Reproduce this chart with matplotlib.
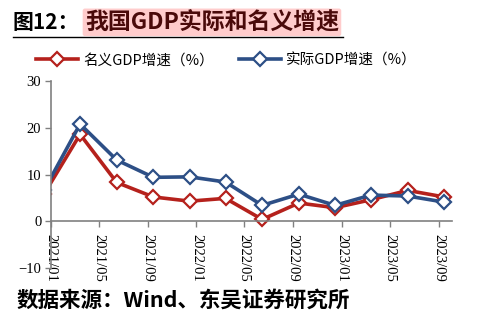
import numpy as np
import pandas as pd
import matplotlib
matplotlib.use("Agg")
import matplotlib.pyplot as plt
import matplotlib.dates as mdates
from matplotlib.lines import Line2D

plt.rcParams["font.family"] = ["Liberation Serif", "Noto Sans CJK SC"]

# quarterly points (first one sits just left of the axis and gets clipped)
dates = pd.to_datetime([
    "2020-12-15", "2021-03-15", "2021-06-15", "2021-09-15", "2021-12-15",
    "2022-03-15", "2022-06-15", "2022-09-15", "2022-12-15",
    "2023-03-15", "2023-06-15", "2023-09-15",
])
nominal = [5.9, 18.6, 8.3, 5.2, 4.3, 4.9, 0.4, 3.9, 2.9, 4.6, 6.6, 5.2]
real = [6.7, 20.8, 13.1, 9.4, 9.5, 8.4, 3.4, 5.8, 3.4, 5.6, 5.4, 4.1]

RED = "#B5211C"
BLUE = "#2D4F86"
CJK = ["Noto Sans CJK SC", "DejaVu Sans"]

fig = plt.figure(figsize=(4.8, 3.19), dpi=100)
ax = fig.add_axes([0.10625, 0.1599, 0.835, 0.586])

ax.plot(dates, nominal, color=RED, lw=2.6, marker="D", ms=7,
        mfc="white", mec=RED, mew=1.6, label="名义GDP增速（%）")
ax.plot(dates, real, color=BLUE, lw=2.6, marker="D", ms=7,
        mfc="white", mec=BLUE, mew=1.6, label="实际GDP增速（%）")

ax.set_ylim(-10, 30)
ax.set_yticks([-10, 0, 10, 20, 30])
ax.set_xlim(pd.Timestamp("2021-01-01"), pd.Timestamp("2023-10-04"))
ax.xaxis.set_major_locator(mdates.MonthLocator(bymonth=[1, 5, 9]))
ax.xaxis.set_major_formatter(mdates.DateFormatter("%Y/%m"))

for s in ["top", "right"]:
    ax.spines[s].set_visible(False)
ax.spines["bottom"].set_position(("data", 0))
for s in ["left", "bottom"]:
    ax.spines[s].set_color("#808080")
    ax.spines[s].set_linewidth(1.2)

ax.tick_params(axis="y", direction="out", length=4, width=1, color="#808080",
               labelsize=10.5, pad=3)
ax.tick_params(axis="x", direction="out", length=4, width=1, color="#808080",
               labelsize=10.5, pad=5)
for lbl in ax.get_xticklabels():
    lbl.set_rotation(270)
    lbl.set_va("top")
    lbl.set_ha("center")

fig.legend(loc="upper left", bbox_to_anchor=(0.075, 0.833), ncol=2, frameon=False,
           handlelength=2.9, columnspacing=1.7, handletextpad=0.33, borderpad=0,
           borderaxespad=0, prop={"family": CJK, "size": 10.5})

# title
fig.text(0.027, 0.93, "图12：", fontsize=15, fontweight="bold",
         family=CJK, va="center", ha="left")
fig.text(0.177, 0.93, "我国GDP实际和名义增速", fontsize=16.5, fontweight="bold",
         family=CJK, va="center", ha="left", color="#4A0A0A",
         bbox=dict(boxstyle="round,pad=0.1", fc="#FFCCCC", ec="none"))
fig.add_artist(Line2D([0.027, 0.715], [0.884, 0.884], color="black", lw=1.0,
                      transform=fig.transFigure))

# source
fig.text(0.035, 0.058, "数据来源：Wind、东吴证券研究所", fontsize=15.5,
         fontweight="bold", family=CJK, va="center", ha="left")

fig.savefig("out.png", dpi=100)
